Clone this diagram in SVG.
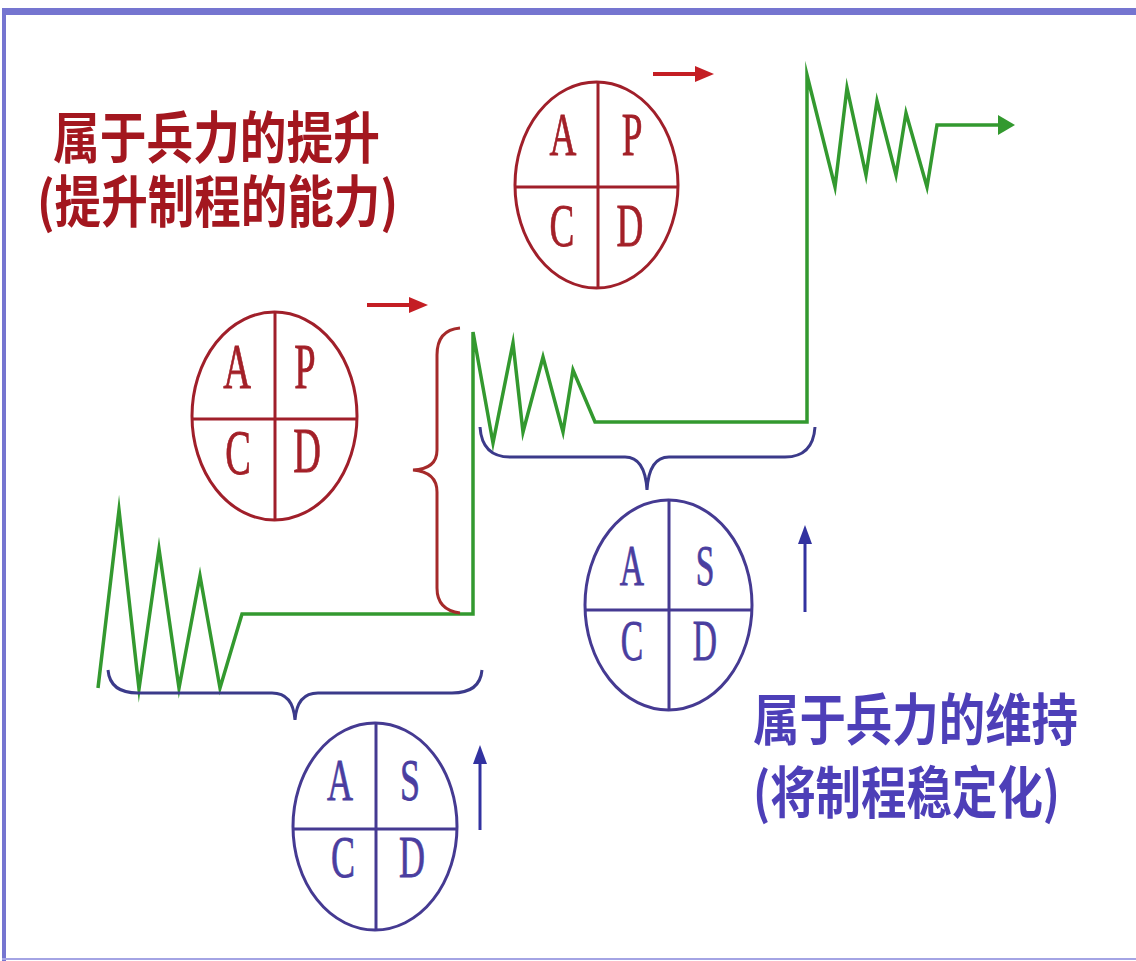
<svg xmlns="http://www.w3.org/2000/svg" width="1136" height="961" viewBox="0 0 1136 961">
<style>
.bg{fill:#ffffff}
.frame{fill:#7575d0}
.green{fill:none;stroke:#33992f;stroke-width:3.5;stroke-linejoin:miter;stroke-miterlimit:10}
.rbrace{fill:none;stroke:#a52a2a;stroke-width:3}
.bbrace{fill:none;stroke:#3b3a8a;stroke-width:3}
.rarrow{stroke:#c41e24;stroke-width:4}
.barrow{stroke:#3232a0;stroke-width:3}
.red-ell{fill:none;stroke:#a01f2a;stroke-width:3}
.blue-ell{fill:none;stroke:#453a92;stroke-width:3}
.red-let{font-family:"Liberation Serif","DejaVu Serif",serif;fill:#a32028;text-anchor:middle;stroke:#a32028;stroke-width:0.8}
.blue-let{font-family:"Liberation Serif","DejaVu Serif",serif;fill:#4a3ea0;text-anchor:middle;stroke:#4a3ea0;stroke-width:0.8}
.cn{font-family:"Noto Sans CJK SC","Noto Sans",sans-serif;font-weight:bold}
.cn-red{fill:#a3171f}
.cn-blue{fill:#4d3fb8}
</style>
<defs>
<marker id="ah-red" markerUnits="userSpaceOnUse" markerWidth="20" markerHeight="18" refX="0" refY="9" orient="auto"><path d="M0,1 L19,9 L0,17 z" fill="#c41e24"/></marker>
<marker id="ah-blue" markerUnits="userSpaceOnUse" markerWidth="20" markerHeight="16" refX="0" refY="8" orient="auto"><path d="M0,1 L19,8 L0,15 z" fill="#3232a0"/></marker>
<marker id="ah-green" markerUnits="userSpaceOnUse" markerWidth="18" markerHeight="22" refX="0" refY="11" orient="auto"><path d="M0,1 L17,11 L0,21 z" fill="#33992f"/></marker>
</defs>
<rect class="bg" x="0" y="0" width="1136" height="961"/>
<g id="frame">
<rect class="frame" x="2" y="8" width="1134" height="7"/>
<rect class="frame" x="2" y="8" width="4" height="953"/>
<rect x="2" y="958" width="1134" height="2" fill="#a4a4e4"/>
</g>
<g id="connectors">
<path class="green" d="M98,688 L119,510 L139,689 L159,549 L179,688 L200,576 L220,688 L242,614 L473,614 L473,332 L493,443 L513,343 L523,432 L543,357 L563,432 L573,370 L595,422 L807,422 L807,75 L835,187 L847,88 L866,175 L877,101 L896,175 L906,113 L927,187 L937,125 L998,125" marker-end="url(#ah-green)"/>
<path class="rbrace" d="M460,328 Q437,330 437,355 L437,450 Q437,469 413,470 Q437,472 437,492 L437,588 Q437,610 460,613"/>
<path class="bbrace" d="M480,427 Q482,457 510,457 L625,457 Q645,457 647,490 Q649,457 669,457 L785,457 Q813,457 815,427"/>
<path class="bbrace" d="M108,670 Q110,693 138,693 L272,693 Q293,693 295,720 Q297,693 318,693 L452,693 Q480,693 482,670"/>
<line class="rarrow" x1="367" y1="305" x2="409" y2="305" marker-end="url(#ah-red)"/>
<line class="rarrow" x1="653" y1="74" x2="695" y2="74" marker-end="url(#ah-red)"/>
<line class="barrow" x1="480" y1="830" x2="480" y2="764" marker-end="url(#ah-blue)"/>
<line class="barrow" x1="805" y1="612" x2="805" y2="544" marker-end="url(#ah-blue)"/>
</g>
<g id="pdca-upper">
<ellipse class="red-ell" cx="596.5" cy="185" rx="81.5" ry="103"/>
<line class="red-ell" x1="598" y1="82" x2="598" y2="288"/>
<line class="red-ell" x1="515" y1="187" x2="678" y2="187"/>
<text class="red-let" font-size="62" transform="translate(563,155) scale(0.6,1)">A</text>
<text class="red-let" font-size="62" transform="translate(632,155) scale(0.6,1)">P</text>
<text class="red-let" font-size="62" transform="translate(562,246) scale(0.6,1)">C</text>
<text class="red-let" font-size="62" transform="translate(630,246) scale(0.6,1)">D</text>
</g>
<g id="pdca-lower">
<ellipse class="red-ell" cx="274.5" cy="416" rx="82.5" ry="104"/>
<line class="red-ell" x1="275" y1="312" x2="275" y2="520"/>
<line class="red-ell" x1="192" y1="419" x2="357" y2="419"/>
<text class="red-let" font-size="64" transform="translate(237,388) scale(0.6,1)">A</text>
<text class="red-let" font-size="64" transform="translate(305,388) scale(0.6,1)">P</text>
<text class="red-let" font-size="64" transform="translate(238,474) scale(0.6,1)">C</text>
<text class="red-let" font-size="64" transform="translate(307,472) scale(0.6,1)">D</text>
</g>
<g id="sdca-middle">
<ellipse class="blue-ell" cx="668.5" cy="605" rx="83.5" ry="105"/>
<line class="blue-ell" x1="669" y1="500" x2="669" y2="710"/>
<line class="blue-ell" x1="585" y1="610" x2="752" y2="610"/>
<text class="blue-let" font-size="56" transform="translate(632,585) scale(0.6,1)">A</text>
<text class="blue-let" font-size="56" transform="translate(705,585) scale(0.6,1)">S</text>
<text class="blue-let" font-size="56" transform="translate(632,660) scale(0.6,1)">C</text>
<text class="blue-let" font-size="56" transform="translate(705,660) scale(0.6,1)">D</text>
</g>
<g id="sdca-lower">
<ellipse class="blue-ell" cx="375" cy="826.5" rx="82" ry="103.5"/>
<line class="blue-ell" x1="376" y1="723" x2="376" y2="930"/>
<line class="blue-ell" x1="293" y1="829" x2="457" y2="829"/>
<text class="blue-let" font-size="60" transform="translate(340,800) scale(0.6,1)">A</text>
<text class="blue-let" font-size="60" transform="translate(410,800) scale(0.6,1)">S</text>
<text class="blue-let" font-size="60" transform="translate(343,877) scale(0.6,1)">C</text>
<text class="blue-let" font-size="60" transform="translate(412,877) scale(0.6,1)">D</text>
</g>
<g id="label-improve">
<text class="cn cn-red" font-size="46" transform="scale(1,1.2)"><tspan x="53" y="131.7" textLength="327" lengthAdjust="spacingAndGlyphs">属于兵力的提升</tspan><tspan x="37" y="185" textLength="361" lengthAdjust="spacingAndGlyphs">(提升制程的能力)</tspan></text>
</g>
<g id="label-maintain">
<text class="cn cn-blue" font-size="46" textLength="325" lengthAdjust="spacingAndGlyphs" transform="translate(753,740) scale(1,1.2)">属于兵力的维持</text>
<text class="cn cn-blue" font-size="46" textLength="307" lengthAdjust="spacingAndGlyphs" transform="translate(753,813) scale(1,1.2)">(将制程稳定化)</text>
</g>
</svg>
